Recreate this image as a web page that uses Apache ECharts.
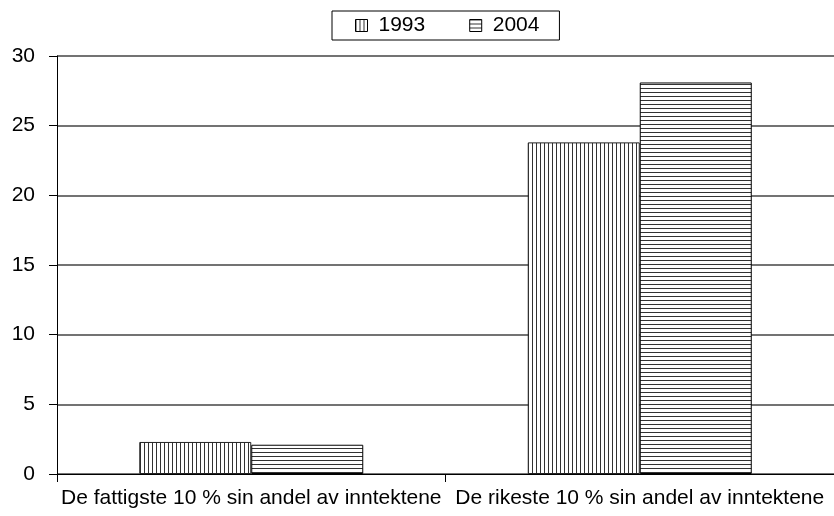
<!DOCTYPE html>
<html>
<head>
<meta charset="utf-8">
<script src="https://cdn.jsdelivr.net/npm/echarts@6/dist/echarts.min.js"></script>
<style>html,body{margin:0;padding:0;background:#fff}#c{width:834px;height:516px}</style>
</head>
<body>
<div id="c"></div>
<script>
const categories = ['De fattigste 10 % sin andel av inntektene', 'De rikeste 10 % sin andel av inntektene'];
const seriesNames = ['1993', '2004'];
const values1993 = [2.3, 23.8];
const values2004 = [2.1, 28.1];
const yTicks = [0, 5, 10, 15, 20, 25, 30];

function makePattern(vertical, lineColor, period, lineW) {
  const c = document.createElement('canvas');
  c.width = period; c.height = period;
  const ctx = c.getContext('2d');
  ctx.fillStyle = '#ffffff';
  ctx.fillRect(0, 0, period, period);
  ctx.fillStyle = lineColor;
  if (vertical) ctx.fillRect(0, 0, lineW, period);
  else ctx.fillRect(0, 0, period, lineW);
  return { image: c, repeat: 'repeat' };
}
const pat1993 = makePattern(true, '#333333', 4, 1);
const pat2004 = makePattern(false, '#333333', 4, 1);

const FONT = 'Liberation Sans, Arial, sans-serif';
const chart = echarts.init(document.getElementById('c'), null, { renderer: 'canvas' });
chart.setOption({
  animation: false,
  backgroundColor: '#ffffff',
  textStyle: { fontFamily: FONT, color: '#000' },
  legend: {
    data: seriesNames.map((n, i) => ({ name: n, icon: 'rect', itemStyle: { color: i === 0 ? pat1993 : pat2004, borderColor: '#000', borderWidth: 1 } })),
    top: 11,
    left: 332,
    padding: [4, 20, 4, 23],
    itemGap: 44,
    itemWidth: 12,
    itemHeight: 12,
    borderColor: '#000',
    borderWidth: 1,
    textStyle: { fontSize: 21, color: '#000', fontFamily: FONT, padding: [0, 0, 0, 6] }
  },
  grid: { left: 57, right: 0, top: 56, bottom: 42, containLabel: false },
  xAxis: {
    type: 'category',
    data: categories,
    axisLine: { lineStyle: { color: '#000', width: 1 } },
    axisTick: { show: true, length: 8, lineStyle: { color: '#000' } },
    axisLabel: { fontSize: 21, color: '#000', margin: 14, interval: 0, fontFamily: FONT }
  },
  yAxis: {
    type: 'value',
    min: 0, max: 30, interval: 5,
    axisLine: { show: true, lineStyle: { color: '#000', width: 1 } },
    axisTick: { show: true, length: 8, lineStyle: { color: '#000' } },
    axisLabel: { fontSize: 21, color: '#000', margin: 22, fontFamily: FONT,
      formatter: v => yTicks.indexOf(v) >= 0 ? String(v) : '' },
    splitLine: { show: true, lineStyle: { color: '#444', width: 1.5 } }
  },
  series: [
    { name: '1993', type: 'bar', data: values1993, barWidth: 112, barGap: '0%',
      itemStyle: { color: pat1993, borderColor: '#222', borderWidth: 1 } },
    { name: '2004', type: 'bar', data: values2004, barWidth: 112, barGap: '0%',
      itemStyle: { color: pat2004, borderColor: '#000', borderWidth: 1 } }
  ]
});
</script>
</body>
</html>
